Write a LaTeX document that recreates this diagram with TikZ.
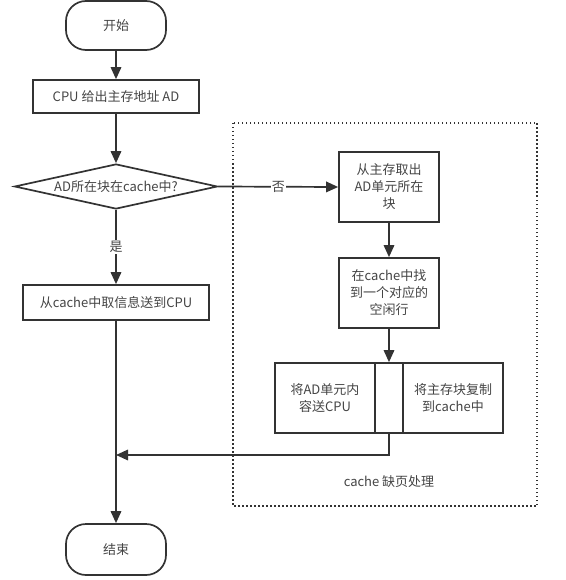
\documentclass[tikz,border=0pt]{standalone}
\usepackage{fontspec}
\setmainfont{Noto Sans CJK SC}
\usetikzlibrary{arrows.meta,shapes.geometric}
\definecolor{ln}{HTML}{333333}
\definecolor{txt}{HTML}{444444}
\begin{document}
\begin{tikzpicture}[x=1pt,y=-1pt,
  line width=1.7pt,
  every node/.style={font=\fontsize{13}{17}\selectfont, text=txt},
  term/.style={draw=ln, rounded corners=20pt, minimum width=100pt, minimum height=49pt, inner sep=0pt},
  proc/.style={draw=ln, inner sep=0pt, align=center},
  dec/.style={draw=ln, diamond, shape aspect=4.5, minimum width=203pt, minimum height=45pt, inner sep=0pt},
  arr/.style={draw=ln, -{Triangle[length=12pt,width=10.5pt]}},
  lab/.style={fill=white, inner sep=1pt},
  group/.style={draw=ln, line width=1.5pt, dash pattern=on 1.5pt off 2.5pt},
  ]
\useasboundingbox (0,0) rectangle (565,580);

\node[term] (start) at (116,25.5) {开始};
\node[proc, minimum width=166pt, minimum height=33pt] (cpu) at (116,96.5) {CPU 给出主存地址 AD};
\node[dec] (q) at (116,186.5) {AD所在块在cache中?};
\node[proc, minimum width=186pt, minimum height=35pt] (hit) at (116,302.5) {从cache中取信息送到CPU};
\node[term, minimum height=51pt] (stop) at (116,549.5) {结束};

\draw[group] (233,123) rectangle (537,506);
\node (grp) at (389,482) {cache 缺页处理};

\node[proc, minimum width=100pt, minimum height=70pt] (fetch) at (389,187) {从主存取出\\AD单元所在\\块};
\node[proc, minimum width=100pt, minimum height=70pt] (find) at (389,293) {在cache中找\\到一个对应的\\空闲行};
\node[proc, minimum width=100pt, minimum height=70pt] (send) at (325,398) {将AD单元内\\容送CPU};
\node[proc, minimum width=28pt, minimum height=70pt] (mid) at (389,398) {};
\node[proc, minimum width=100pt, minimum height=70pt] (copy) at (453,398) {将主存块复制\\到cache中};

\coordinate (corner) at (389,455);
\coordinate (join) at (116,455);

\draw[arr] (start) -- (cpu);
\draw[arr] (cpu) -- (q);
\draw[arr] (q) -- node[lab] (yes) {是} (hit);
\draw[arr] (hit) -- (stop);
\draw[arr] (q.east) -- node[lab] (no) {否} (fetch.west);
\draw[arr] (fetch) -- (find);
\draw[arr] (find) -- (mid.north);
\draw[arr] (mid.south) -- (corner) -- (join);
\end{tikzpicture}
\end{document}
